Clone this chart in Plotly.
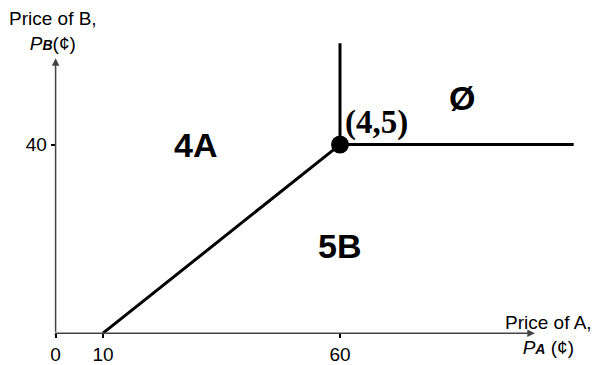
import plotly.graph_objects as go

# boundary between the regions (price of A, price of B)
diag_x = [10, 60]
diag_y = [0, 40]
vert_x = [60, 60]
vert_y = [40, 61.5]
horiz_x = [60, 109.3]
horiz_y = [40, 40]
corner_x = [60]
corner_y = [40]

x_ticks = [0, 10, 60]
y_ticks = [40]

# region labels
region_text = ["4A", "5B", "Ø"]
region_x = [29.6, 59.8, 85.7]
region_y = [40, 18.5, 49.9]

W, H = 595, 365
px_per_unit = 4.74
x0_px, y0_px = 55.6, 335
x_range = [-x0_px / px_per_unit, (W - x0_px) / px_per_unit]
y_range = [-(H - y0_px) / px_per_unit, y0_px / px_per_unit]

sans = "Liberation Sans, Arial, sans-serif"

fig = go.Figure()

line_style = dict(color='black', width=3)
fig.add_trace(go.Scatter(x=diag_x, y=diag_y, mode='lines', line=line_style))
fig.add_trace(go.Scatter(x=vert_x, y=vert_y, mode='lines', line=line_style))
fig.add_trace(go.Scatter(x=horiz_x, y=horiz_y, mode='lines', line=line_style))
fig.add_trace(go.Scatter(x=corner_x, y=corner_y, mode='markers',
                         marker=dict(color='black', size=18)))

# axis arrows
axis_color = '#444444'
fig.add_annotation(x=101.1, y=0, ax=-0.5, ay=0, xref='x', yref='y',
                   axref='x', ayref='y', showarrow=True, arrowhead=2,
                   arrowsize=1, arrowwidth=1.5, arrowcolor=axis_color, text='')
fig.add_annotation(x=0, y=58.3, ax=0, ay=0, xref='x', yref='y',
                   axref='x', ayref='y', showarrow=True, arrowhead=2,
                   arrowsize=1, arrowwidth=1.5, arrowcolor=axis_color, text='')

for t, xx, yy in zip(region_text, region_x, region_y):
    fig.add_annotation(x=xx, y=yy, text="<b>%s</b>" % t, showarrow=False,
                       font=dict(family=sans, size=34, color='black'))

fig.add_annotation(x=67.8, y=44.6, text="<b>(4,5)</b>", showarrow=False,
                   font=dict(family="Liberation Serif, Times New Roman, serif",
                             size=33, color='black'))

# axis titles
fig.add_annotation(x=548 / W, y=1 - 337 / H, xref='paper', yref='paper',
                   xanchor='center', yanchor='middle',
                   text="Price of A,<br><i>P<b><span style='font-size:14px'>A</span></b></i> (¢)",
                   showarrow=False, align='center',
                   font=dict(family=sans, size=19, color='black'))
fig.add_annotation(x=53 / W, y=1 - 31 / H, xref='paper', yref='paper',
                   xanchor='center', yanchor='middle',
                   text="Price of B,<br><i>P<b><span style='font-size:14px'>B</span></b></i>(¢)",
                   showarrow=False, align='center',
                   font=dict(family=sans, size=19, color='black'))

fig.update_layout(
    width=W, height=H,
    margin=dict(l=0, r=0, t=0, b=0),
    paper_bgcolor='white', plot_bgcolor='white',
    showlegend=False,
    xaxis=dict(range=x_range, anchor='free', position=(H - y0_px) / H,
               tickvals=x_ticks, ticks='outside', ticklen=4, tickwidth=2,
               tickcolor='black', showgrid=False, zeroline=False,
               showline=False, tickfont=dict(family=sans, size=19, color='black')),
    yaxis=dict(range=y_range, anchor='free', position=x0_px / W,
               tickvals=y_ticks, ticks='outside', ticklen=5, tickwidth=2,
               tickcolor='black', showgrid=False, zeroline=False,
               showline=False, tickfont=dict(family=sans, size=19, color='black')),
)

# page body has a default margin; drop it so the figure fills the window
fig.write_html("out.html", config={'displayModeBar': False},
               post_script="document.body.style.margin='0';")
